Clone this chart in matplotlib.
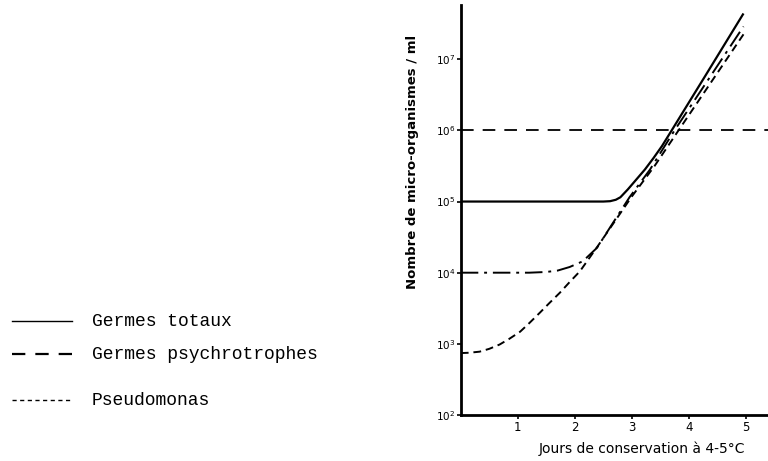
import matplotlib.pyplot as plt
from matplotlib.lines import Line2D
import numpy as np

# values (log10 of count per ml)
days_totaux = [0, 1, 2, 2.5, 2.62, 2.72, 2.8, 2.93, 3.08, 3.23, 3.38, 3.53, 3.70, 4.3, 4.95]
log_totaux = [5.0, 5.0, 5.0, 5.0, 5.005, 5.025, 5.06, 5.17, 5.31, 5.45, 5.61, 5.78, 6.0, 6.78, 7.63]

days_dashdot = [0, 1.2, 1.5, 1.7, 1.91, 2.14, 2.39, 2.67, 2.96, 3.32, 3.75, 4.96]
log_dashdot = [4.0, 4.0, 4.01, 4.03, 4.08, 4.16, 4.35, 4.7, 5.06, 5.45, 6.0, 7.46]

days_dashed = [0, 0.15, 0.33, 0.5, 0.68, 0.85, 1.04, 1.2, 1.39, 1.55, 1.74, 1.9,
               2.09, 2.25, 2.4, 2.7, 3.0, 3.4, 3.82, 4.96]
log_dashed = [2.87, 2.875, 2.89, 2.93, 2.99, 3.07, 3.17, 3.29, 3.44, 3.57, 3.72, 3.86,
              4.02, 4.2, 4.37, 4.72, 5.07, 5.5, 6.0, 7.35]

seuil = 1e6
x_ticks = [1, 2, 3, 4, 5]
y_exps = [2, 3, 4, 5, 6, 7]

legend_labels = ["Germes totaux", "Germes psychrotrophes", "Pseudomonas"]

fig = plt.figure(figsize=(7.68, 4.61), dpi=100)
ax = fig.add_axes([0.600, 0.0998, 0.400, 0.889])

ax.plot(days_totaux, 10 ** np.array(log_totaux), color="black", lw=1.6)
ax.plot(days_dashdot, 10 ** np.array(log_dashdot), color="black", lw=1.4,
        linestyle=(0, (9, 3, 1.5, 3)))
ax.plot(days_dashed, 10 ** np.array(log_dashed), color="black", lw=1.4,
        linestyle=(0, (4, 2.5)))
ax.axhline(seuil, color="black", lw=1.3, linestyle=(0, (7, 5)))

ax.set_yscale("log")
ax.set_xlim(0, 5.39)
ax.set_ylim(1e2, 10 ** 7.76)

for s in ["top", "right"]:
    ax.spines[s].set_visible(False)
for s in ["left", "bottom"]:
    ax.spines[s].set_linewidth(2)

ax.set_xticks(x_ticks)
ax.set_xticklabels([str(t) for t in x_ticks], fontsize=8.5)
ax.set_yticks([10.0 ** e for e in y_exps])
ax.set_yticklabels([rf"$10^{{{e}}}$" for e in y_exps], fontsize=7.5)
ax.yaxis.set_minor_locator(plt.NullLocator())
ax.tick_params(axis="both", length=3, width=1.2, pad=1)

ax.set_xlabel("Jours de conservation à 4-5°C", fontsize=10)
ax.xaxis.set_label_coords(0.59, -0.065)
ax.set_ylabel("Nombre de micro-organismes / ml", fontsize=9.5, fontweight="bold")
ax.yaxis.set_label_coords(-0.135, 0.617)

# legend drawn on the left side of the figure
rows_y = [1 - 321 / 461, 1 - 354 / 461, 1 - 400 / 461]
styles = ["-", (0, (6, 4.5)), (0, (3, 2.5))]
widths = [1.0, 1.6, 1.0]
for yy, ls, lw, lab in zip(rows_y, styles, widths, legend_labels):
    fig.add_artist(Line2D([12 / 768, 72 / 768], [yy, yy], color="black",
                          lw=lw, linestyle=ls))
    fig.text(92 / 768, yy, lab, fontsize=13, family="Liberation Mono",
             va="center", ha="left")

fig.savefig("out.png", dpi=100)
